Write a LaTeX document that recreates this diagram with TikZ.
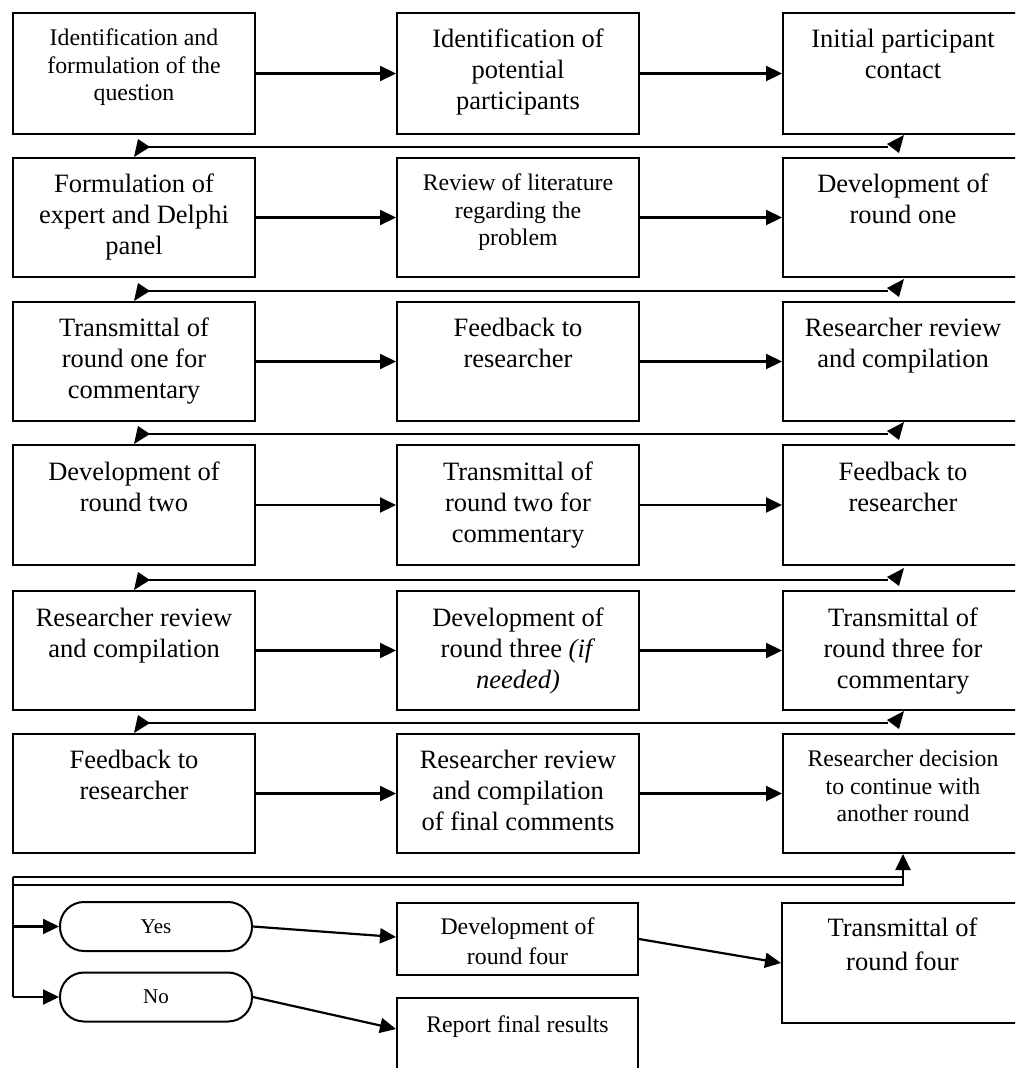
\documentclass[tikz,border=0pt]{standalone}
\usepackage{fontspec}
\setmainfont{Liberation Serif}
\usetikzlibrary{arrows.meta,calc}
\tikzset{
  box/.style={draw, line width=2pt, inner sep=0pt, minimum width=242pt},
  pill/.style={draw, line width=2pt, inner sep=0pt, minimum width=192pt, minimum height=49pt, rounded corners=24pt, font=\fontsize{21}{25}\selectfont},
  bigtxt/.style={font=\fontsize{26.5}{31}\selectfont, align=center, anchor=north, inner sep=0pt},
  smalltxt/.style={font=\fontsize{23.8}{27.5}\selectfont, align=center, anchor=north, inner sep=0pt},
  conn/.style={line width=2.2pt, -{Triangle[length=16pt,width=15pt]}},
  ret/.style={line width=2.2pt},
}
\newcommand\retconn[2]{%
  \coordinate (tmpL) at ($(#2.north)+(0,-10)$);
  \coordinate (tmpR) at (#1.south |- tmpL);
  \draw[ret] ($(tmpR)+(-15,0)$) -- ($(tmpL)+(15,0)$);
  \fill ($(tmpR)+(-16,-3)$) -- ($(tmpR)+(1,-12)$) -- ($(tmpR)+(-4,6)$) -- cycle;
  \fill ($(tmpL)+(4,-8)$) -- ($(tmpL)+(16,0)$) -- (#2.north) -- cycle;
}
\begin{document}
\begin{tikzpicture}[x=1pt,y=-1pt]
\useasboundingbox (0,0) rectangle (1015,1068);
\clip (0,0) rectangle (1015,1068);

% row 1
\node[box, minimum height=121pt] (a1) at (134,73.5) {};
\node[box, minimum height=121pt] (b1) at (518,73.5) {};
\node[box, minimum height=121pt, minimum width=240pt] (c1) at (903,73.5) {};
% row 2
\node[box, minimum height=119pt] (a2) at (134,217.5) {};
\node[box, minimum height=119pt] (b2) at (518,217.5) {};
\node[box, minimum height=119pt, minimum width=240pt] (c2) at (903,217.5) {};
% row 3
\node[box, minimum height=119pt] (a3) at (134,361.5) {};
\node[box, minimum height=119pt] (b3) at (518,361.5) {};
\node[box, minimum height=119pt, minimum width=240pt] (c3) at (903,361.5) {};
% row 4
\node[box, minimum height=120pt] (a4) at (134,505) {};
\node[box, minimum height=120pt] (b4) at (518,505) {};
\node[box, minimum height=120pt, minimum width=240pt] (c4) at (903,505) {};
% row 5
\node[box, minimum height=119pt] (a5) at (134,650.5) {};
\node[box, minimum height=119pt] (b5) at (518,650.5) {};
\node[box, minimum height=119pt, minimum width=240pt] (c5) at (903,650.5) {};
% row 6
\node[box, minimum height=119pt] (a6) at (134,793.5) {};
\node[box, minimum height=119pt] (b6) at (518,793.5) {};
\node[box, minimum height=119pt, minimum width=240pt] (c6) at (903,793.5) {};

% texts
\node[smalltxt] (ta1) at ($(a1.north)+(0,17)$) {Identification and\\formulation of the\\question};
\node[bigtxt] (tb1) at ($(b1.north)+(0,17)$) {Identification of\\potential\\participants};
\node[bigtxt] (tc1) at ($(c1.north)+(0,17)$) {Initial participant\\contact};

\node[bigtxt] (ta2) at ($(a2.north)+(0,17)$) {Formulation of\\expert and Delphi\\panel};
\node[smalltxt] (tb2) at ($(b2.north)+(0,17)$) {Review of literature\\regarding the\\problem};
\node[bigtxt] (tc2) at ($(c2.north)+(0,17)$) {Development of\\round one};

\node[bigtxt] (ta3) at ($(a3.north)+(0,17)$) {Transmittal of\\round one for\\commentary};
\node[bigtxt] (tb3) at ($(b3.north)+(0,17)$) {Feedback to\\researcher};
\node[bigtxt] (tc3) at ($(c3.north)+(0,17)$) {Researcher review\\and compilation};

\node[bigtxt] (ta4) at ($(a4.north)+(0,18)$) {Development of\\round two};
\node[bigtxt] (tb4) at ($(b4.north)+(0,18)$) {Transmittal of\\round two for\\commentary};
\node[bigtxt] (tc4) at ($(c4.north)+(0,18)$) {Feedback to\\researcher};

\node[bigtxt] (ta5) at ($(a5.north)+(0,18)$) {Researcher review\\and compilation};
\node[bigtxt] (tb5) at ($(b5.north)+(0,18)$) {Development of\\round three \textit{(if}\\\textit{needed)}};
\node[bigtxt] (tc5) at ($(c5.north)+(0,18)$) {Transmittal of\\round three for\\commentary};

\node[bigtxt] (ta6) at ($(a6.north)+(0,17)$) {Feedback to\\researcher};
\node[bigtxt] (tb6) at ($(b6.north)+(0,17)$) {Researcher review\\and compilation\\of final comments};
\node[smalltxt] (tc6) at ($(c6.north)+(0,17)$) {Researcher decision\\to continue with\\another round};

% horizontal connectors
\foreach \r in {1,...,6}{
  \draw[conn] (a\r.east) -- (b\r.west);
  \draw[conn] (b\r.east) -- (c\r.west);
}

% return connectors
\retconn{c1}{a2}
\retconn{c2}{a3}
\retconn{c3}{a4}
\retconn{c4}{a5}
\retconn{c5}{a6}

% bottom part
\node[pill] (yes) at (156,926.5) {Yes};
\node[pill] (no) at (156,997) {No};
\node[box, minimum width=241pt, minimum height=72pt] (d4) at (517.5,939) {};
\node[box, minimum width=241pt, minimum height=77pt] (rep) at (517.5,1036.5) {};
\node[box, minimum width=241pt, minimum height=120pt] (t4) at (902.5,963) {};

\node[font=\fontsize{23.8}{30}\selectfont, align=center, anchor=north, inner sep=0pt] (td4) at ($(d4.north)+(0,16)$) {Development of\\round four};
\node[font=\fontsize{23.8}{28}\selectfont, align=center, anchor=north, inner sep=0pt] (trep) at ($(rep.north)+(0,19)$) {Report final results};
\node[font=\fontsize{26.5}{34}\selectfont, align=center, anchor=north, inner sep=0pt] (tt4) at ($(t4.north)+(0,16)$) {Transmittal of\\round four};

\coordinate (tl) at (12.7,877);
\coordinate (bl) at (12.7,885);
\draw[ret] (tl) -- (tl -| c6.south);
\draw[ret] (tl) -- (bl);
\draw[conn] (bl) -- (bl -| c6.south) -- (c6.south);
\draw[ret] (tl) -- (tl |- no.west);
\draw[conn] (tl |- yes.west) -- (yes.west);
\draw[conn] (tl |- no.west) -- (no.west);

\draw[conn] (yes.east) -- ($(d4.west)+(0,-2)$);
\draw[conn] (no.east) -- ($(rep.north west)+(0,32)$);
\draw[conn] (d4.east) -- (t4.west);
\end{tikzpicture}
\end{document}
